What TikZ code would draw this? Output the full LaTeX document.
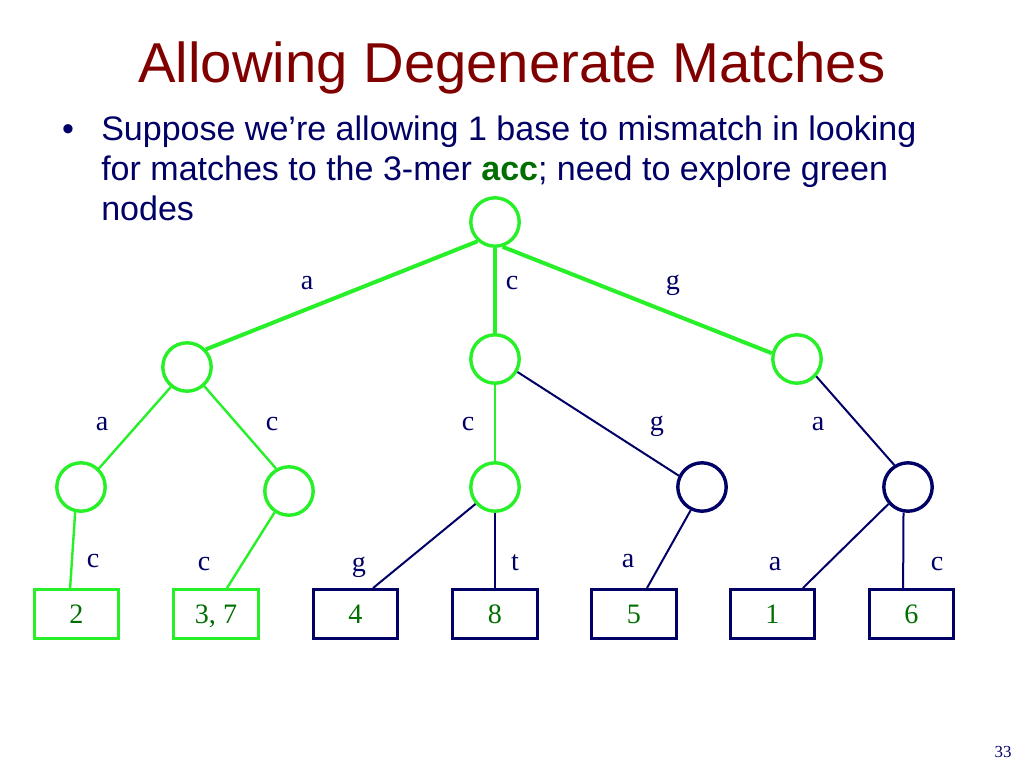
\documentclass[tikz,border=0pt]{standalone}
\usepackage{fontspec}
\setmainfont{Liberation Serif}
\newfontfamily\arialfont{Liberation Sans}
\usetikzlibrary{positioning}
\definecolor{slidered}{RGB}{128,0,0}
\definecolor{navy}{RGB}{0,0,102}
\definecolor{brightgreen}{RGB}{40,240,40}
\definecolor{darkgreen}{RGB}{0,110,0}

\begin{document}
\begin{tikzpicture}[x=0.25mm, y=-0.25mm,
 vis/.style={draw=brightgreen, circle, line width=0.85mm, minimum size=12.1mm, inner sep=0pt},
 unvis/.style={vis, draw=navy},
 leaf/.style={draw=brightgreen, line width=0.7mm, minimum width=21.1mm, minimum height=12.3mm, inner sep=0pt,
   text height=4.75mm, text depth=0pt, text=darkgreen, font=\fontsize{20}{24}\selectfont},
 leafout/.style={leaf, draw=navy},
 lbl/.style={anchor=base, text=navy, font=\fontsize{20}{24}\selectfont},
 txt/.style={anchor=base west, text=navy, inner sep=0pt, font=\arialfont\fontsize{24.2}{29}\selectfont},
 rootedge/.style={draw=brightgreen, line width=1mm},
 hit/.style={draw=brightgreen, line width=0.6mm},
 miss/.style={draw=navy, line width=0.5mm}]
\useasboundingbox (0,0) rectangle (1024,768);
% title and bullet
\node[anchor=base, text=slidered, inner sep=0pt, font=\arialfont\fontsize{40}{48}\selectfont] (title) at (512,82) {Allowing Degenerate Matches};
\node[txt, anchor=base] (bullet) at (68,140) {\textbullet};
\node[txt] (line1) at (101,140) {Suppose we’re allowing 1 base to mismatch in looking};
\node[txt] (line2) at (101,180) {for matches to the 3-mer \textcolor{darkgreen}{\textbf{acc}}; need to explore green};
\node[txt] (line3) at (101,220) {nodes};
% trie nodes
\node[vis] (root) at (495,222) {};
\node[vis] (a) at (187,367) {};
\node[vis] (c) at (495,359) {};
\node[vis] (g) at (797,359) {};
\node[vis] (aa) at (81,487) {};
\node[vis] (ac) at (289,491) {};
\node[vis] (cc) at (495,487) {};
\node[unvis] (cg) at (702,487) {};
\node[unvis] (ga) at (908,487) {};
% leaves
\node[leaf] (l2) at (76.5,614) {2};
\node[leaf] (l37) at (216,614) {3, 7};
\node[leafout] (l4) at (355.5,614) {4};
\node[leafout] (l8) at (495,614) {8};
\node[leafout] (l5) at (634,614) {5};
\node[leafout] (l1) at (772.5,614) {1};
\node[leafout] (l6) at (911.5,614) {6};
% edges
\draw[rootedge] (root.-132) -- (a.43);
\draw[rootedge] (root) -- (c);
\draw[rootedge] (root.-73) -- (g.167);
\draw[hit] (a.-129) -- (aa.46);
\draw[hit] (a.-48) -- (ac.120);
\draw[hit] (c) -- (cc);
\draw[miss] (c.-30) -- (cg.154);
\draw[miss] (g.-42) -- (ga.122);
\draw[hit] (aa.-103) -- ([xshift=-1.6mm]l2.north);
\draw[hit] (ac.-124) -- ([xshift=2.75mm]l37.north);
\draw[miss] (cc.-139) -- ([xshift=4.4mm]l4.north);
\draw[miss] (cc) -- (l8);
\draw[miss] (cg.-116) -- ([xshift=3.25mm]l5.north);
\draw[miss] (ga.-139) -- ([xshift=7.6mm]l1.north);
\draw[miss] (ga.-100) -- ([xshift=-2.1mm]l6.north);
% edge letters
\node[lbl] (ta) at (307,289) {a};
\node[lbl] (tc) at (512,289) {c};
\node[lbl] (tg) at (673,289) {g};
\node[lbl] (taa) at (102,430) {a};
\node[lbl] (tac) at (272,430) {c};
\node[lbl] (tcc) at (468,430) {c};
\node[lbl] (tcg) at (657,430) {g};
\node[lbl] (tga) at (818,430) {a};
\node[lbl] (taac) at (93,567) {c};
\node[lbl] (tacc) at (204,570) {c};
\node[lbl] (tccg) at (359,571) {g};
\node[lbl] (tcct) at (515,570) {t};
\node[lbl] (tcga) at (628,567) {a};
\node[lbl] (tgaa) at (775,570) {a};
\node[lbl] (tgac) at (937,570) {c};
% page number
\node[lbl, font=\fontsize{12}{14}\selectfont] (page) at (1003,757) {33};
\end{tikzpicture}
\end{document}
